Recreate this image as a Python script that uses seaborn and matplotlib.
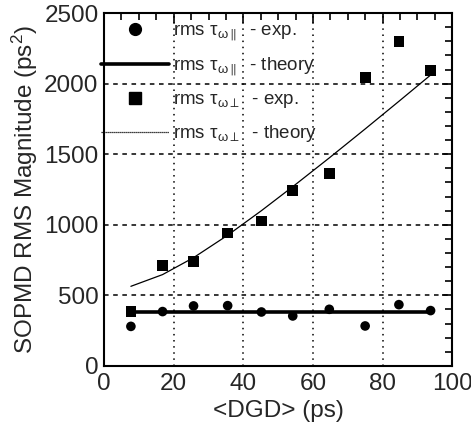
import numpy as np
import pandas as pd
import matplotlib
matplotlib.use("Agg")
import matplotlib.pyplot as plt
from matplotlib.lines import Line2D
from matplotlib.ticker import MultipleLocator
import seaborn as sns

# Mean DGD values (ps)
dgd = [7.7, 16.8, 25.7, 35.5, 45.2, 54.2, 64.7, 75.0, 84.7, 93.8]
# Measured RMS of parallel SOPMD component (ps^2)
par_exp = [280, 385, 425, 427, 382, 354, 401, 283, 434, 392]
# Theoretical RMS of parallel component (ps^2)
par_theory = [385, 385, 385, 385, 385, 385, 385, 385, 385, 385]
# Measured RMS of perpendicular SOPMD component (ps^2)
perp_exp = [385, 710, 738, 942, 1027, 1244, 1364, 2042, 2299, 2092]
# Theoretical RMS of perpendicular component (ps^2)
perp_theory = [564, 647, 767, 926, 1100, 1270, 1474, 1679, 1875, 2061]

x_ticks = [0, 20, 40, 60, 80, 100]
y_ticks = [0, 500, 1000, 1500, 2000, 2500]

df = pd.DataFrame({
    "dgd": dgd,
    "par_exp": par_exp,
    "par_theory": par_theory,
    "perp_exp": perp_exp,
    "perp_theory": perp_theory,
})

sns.set_style("white")
plt.rcParams["font.family"] = ["Liberation Sans", "DejaVu Sans"]
plt.rcParams["mathtext.fontset"] = "custom"
plt.rcParams["mathtext.rm"] = "Liberation Sans"
plt.rcParams["mathtext.it"] = "Liberation Sans:italic"
plt.rcParams["mathtext.default"] = "regular"

fig = plt.figure(figsize=(4.71, 4.23), dpi=100)
ax = fig.add_axes([0.221, 0.135, 0.739, 0.834])

sns.lineplot(data=df, x="dgd", y="par_theory", ax=ax, color="black", lw=2.6)
sns.lineplot(data=df, x="dgd", y="perp_theory", ax=ax, color="black", lw=0.9)
sns.scatterplot(data=df, x="dgd", y="par_exp", ax=ax, color="black",
                marker="o", s=48, edgecolor="none", zorder=4)
sns.scatterplot(data=df, x="dgd", y="perp_exp", ax=ax, color="black",
                marker="s", s=60, edgecolor="none", zorder=4)

ax.set_xlim(0, 100)
ax.set_ylim(0, 2500)
ax.set_xticks(x_ticks)
ax.set_yticks(y_ticks)
ax.xaxis.set_minor_locator(MultipleLocator(5))
ax.yaxis.set_minor_locator(MultipleLocator(100))
ax.tick_params(which="both", direction="in", top=True, right=True,
               color="black", width=1.2, labelsize=17.5)
ax.tick_params(axis="x", which="major", pad=5)
ax.tick_params(axis="y", which="major", pad=4)
ax.tick_params(which="major", length=7)
ax.tick_params(which="minor", length=5)

ax.grid(True, axis="x", color="black", linestyle=(0, (1, 3)), lw=1.1)
ax.grid(True, axis="y", color="black", linestyle=(0, (3, 3)), lw=1.1)

for sp in ax.spines.values():
    sp.set_color("black")
    sp.set_linewidth(1.5)

ax.set_xlabel("<DGD> (ps)", fontsize=17.5, labelpad=4)
ax.set_ylabel(r"SOPMD RMS Magnitude (ps$^2$)", fontsize=17.5, labelpad=3)

handles = [
    Line2D([], [], color="black", marker="o", ls="none", markersize=8.5),
    Line2D([], [], color="black", lw=2.6),
    Line2D([], [], color="black", marker="s", ls="none", markersize=8.5),
    Line2D([], [], color="black", lw=0.9, ls=(0, (1, 0.6))),
]
labels = [
    r"rms $\tau_{\omega\parallel}\ \ $- exp.",
    r"rms $\tau_{\omega\parallel}\ \ $- theory",
    r"rms $\tau_{\omega\perp}\ \ $- exp.",
    r"rms $\tau_{\omega\perp}\ \ $- theory",
]
leg = ax.legend(handles, labels, loc="upper left", bbox_to_anchor=(-0.025, 0.99),
                frameon=False, fontsize=13.5, handlelength=3.6, handletextpad=0.25,
                labelspacing=0.7, borderpad=0.3, borderaxespad=0)

fig.savefig("out.png", dpi=100)
